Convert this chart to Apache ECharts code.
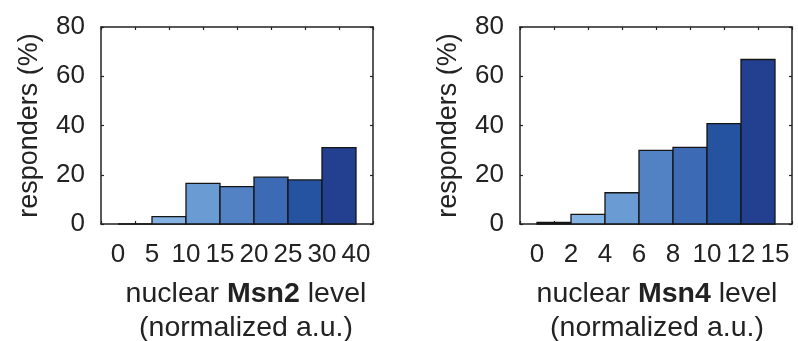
<!DOCTYPE html>
<html><head><meta charset="utf-8">
<script src="https://cdn.jsdelivr.net/npm/echarts@6/dist/echarts.min.js"></script>
<style>html,body{margin:0;padding:0;background:#fff}#c{width:798px;height:341px}</style>
</head><body><div id="c"></div>
<script>
// ---- data ----
const msn2Edges = ['0', '5', '10', '15', '20', '25', '30', '40'];
const msn2Values = [0, 3, 16.5, 15.2, 19, 17.9, 31];
const msn4Edges = ['0', '2', '4', '6', '8', '10', '12', '15'];
const msn4Values = [0.6, 3.9, 12.7, 29.9, 31.1, 40.8, 66.8];
const proteins = ['Msn2', 'Msn4'];
const yName = 'responders (%)';
const yMin = 0, yMax = 80, yStep = 20;
const barColors = ['#a6cbef', '#84b3e3', '#6a9bd3', '#5382c4', '#3d6ab5', '#2553a0', '#233f8f'];

// ---- layout / style ----
const FONT = "'Liberation Sans', Arial, Helvetica, sans-serif";
const INK = '#222';
const panels = [
  { edges: msn2Edges, values: msn2Values, left: 101, titleX: 246 },
  { edges: msn4Edges, values: msn4Values, left: 520, titleX: 657 }
];
const TOP = 27, W = 272, H = 197;

const grid = [], xAxis = [], yAxis = [], series = [], graphic = [];
const lineStyle = { color: INK, width: 1.5 };
const tickStyle = { color: INK, width: 1.2 };

panels.forEach((p, g) => {
  grid.push({ left: p.left, top: TOP, width: W, height: H, containLabel: false });
  const nb = p.values.length;
  // bottom value axis (bars live here), ticks at bar centres
  xAxis.push({ type: 'value', gridIndex: g, position: 'bottom', min: -0.5, max: nb + 0.5, interval: 1,
    axisLine: { show: true, onZero: false, lineStyle }, axisTick: { show: true, inside: true, length: 3, lineStyle: tickStyle },
    axisLabel: { show: false }, splitLine: { show: false } });
  // top value axis (box)
  xAxis.push({ type: 'value', gridIndex: g, position: 'top', min: -0.5, max: nb + 0.5, interval: 1,
    axisLine: { show: true, onZero: false, lineStyle }, axisTick: { show: true, inside: true, length: 3, lineStyle: tickStyle },
    axisLabel: { show: false }, splitLine: { show: false } });
  // category axis carrying bin-edge labels
  xAxis.push({ type: 'category', gridIndex: g, position: 'bottom', data: p.edges, boundaryGap: true,
    axisLine: { show: false }, axisTick: { show: false }, splitLine: { show: false },
    axisLabel: { show: true, interval: 0, fontSize: 26, fontFamily: FONT, color: INK, margin: 18 } });
  yAxis.push({ type: 'value', gridIndex: g, position: 'left', min: yMin, max: yMax, interval: yStep,
    name: yName, nameLocation: 'middle', nameRotate: 90, nameGap: 58,
    nameTextStyle: { fontSize: 27, fontFamily: FONT, color: INK },
    axisLine: { show: true, onZero: false, lineStyle }, axisTick: { show: true, inside: true, length: 3, lineStyle: tickStyle },
    axisLabel: { fontSize: 26, fontFamily: FONT, color: INK, margin: 16 }, splitLine: { show: false } });
  yAxis.push({ type: 'value', gridIndex: g, position: 'right', min: yMin, max: yMax, interval: yStep,
    axisLine: { show: true, onZero: false, lineStyle }, axisTick: { show: true, inside: true, length: 3, lineStyle: tickStyle },
    axisLabel: { show: false }, splitLine: { show: false } });

  series.push({
    type: 'custom', xAxisIndex: g * 3, yAxisIndex: g * 2,
    data: p.values.map((v, i) => [i, v]),
    renderItem: (params, api) => {
      const i = api.value(0), v = api.value(1);
      const a = api.coord([i, 0]), b = api.coord([i + 1, v]);
      return { type: 'rect', shape: { x: a[0], y: b[1], width: b[0] - a[0], height: a[1] - b[1] },
        style: { fill: barColors[i], stroke: '#151515', lineWidth: 1.3 } };
    },
    z: 1
  });

  graphic.push({ type: 'text', x: p.titleX, y: 277,
    style: { text: '{n|nuclear }{b|' + proteins[g] + '}{n| level}\n{n|(normalized a.u.)}',
      textAlign: 'center', textVerticalAlign: 'top',
      rich: { n: { fontSize: 28.5, fontFamily: FONT, fill: INK, lineHeight: 34 },
              b: { fontSize: 28.5, fontFamily: FONT, fill: INK, fontWeight: 'bold', lineHeight: 34 } } } });
});

// x value axes span 8 units: bin edges 0..7 between -0.5 and 7.5
xAxis.forEach(a => { if (a.type === 'value') a.max = 7.5; });

const chart = echarts.init(document.getElementById('c'), null, { renderer: 'canvas' });
chart.setOption({ animation: false, backgroundColor: '#fff', grid, xAxis, yAxis, series, graphic });
</script></body></html>
